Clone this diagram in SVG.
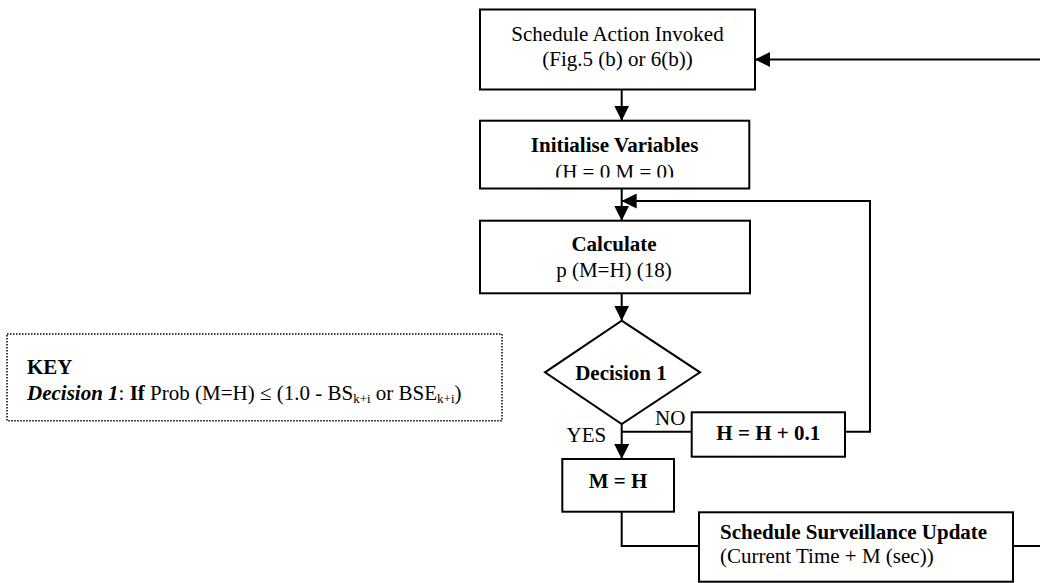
<svg xmlns="http://www.w3.org/2000/svg" width="1040" height="583" viewBox="0 0 1040 583">
<style>
.box{fill:#fff;stroke:#000;stroke-width:2}
.t{font-family:"Liberation Serif","Times New Roman",serif;font-size:21px;fill:#000}
.b{font-weight:bold}
.c{text-anchor:middle}
.ln{fill:none;stroke:#000;stroke-width:2}
.key{fill:#fff;stroke:#000;stroke-width:1.5;stroke-dasharray:1.5 1.5}
</style>
<defs>
<marker id="ah" markerUnits="userSpaceOnUse" markerWidth="15" markerHeight="15" viewBox="0 0 15 15" refX="15" refY="7.5" orient="auto">
<path d="M0,0 L15,7.5 L0,15 Z" fill="#000"/>
</marker>
<clipPath id="clipInit"><rect x="480" y="120" width="270" height="57.5"/></clipPath>
</defs>
<rect width="1040" height="583" fill="#fff"/>
<g id="connectors">
<path class="ln" d="M1040,59.5 L755,59.5" marker-end="url(#ah)"/>
<path class="ln" d="M621.7,89.5 L621.7,120.7" marker-end="url(#ah)"/>
<path class="ln" d="M621.7,188.5 L621.7,220.7" marker-end="url(#ah)"/>
<path class="ln" d="M845,431.7 L870,431.7 L870,201 L621.7,201" marker-end="url(#ah)"/>
<path class="ln" d="M621.7,293.3 L621.7,320.7" marker-end="url(#ah)"/>
<path class="ln" d="M621.7,424 L621.7,459" marker-end="url(#ah)"/>
<path class="ln" d="M621.7,431.7 L691.7,431.7"/>
<path class="ln" d="M621.7,511.7 L621.7,546 L699,546"/>
<path class="ln" d="M1013,546 L1040,546"/>
</g>
<g id="n-schedule">
<rect class="box" x="480" y="9.5" width="275" height="80"/>
<text class="t c" x="617.5" y="40.5">Schedule Action Invoked</text>
<text class="t c" x="617.5" y="66">(Fig.5 (b) or 6(b))</text>
</g>
<g id="n-init">
<rect class="box" x="480" y="120.7" width="269.3" height="67.8"/>
<text class="t b c" x="614.6" y="151.5">Initialise Variables</text>
<text class="t c" x="614.6" y="178.5" clip-path="url(#clipInit)">(H = 0 M = 0)</text>
</g>
<g id="n-calc">
<rect class="box" x="480" y="220.7" width="270" height="72.6"/>
<text class="t b c" x="614" y="250.7">Calculate</text>
<text class="t c" x="614" y="276.7">p (M=H) (18)</text>
</g>
<g id="n-decision">
<polygon class="box" points="621.7,320.7 700,372.3 621.7,424 545,372.3"/>
<text class="t b c" x="621" y="380">Decision 1</text>
</g>
<g id="n-inc">
<rect class="box" x="691.7" y="412.3" width="153.3" height="44.4"/>
<text class="t b c" x="768.3" y="440">H = H + 0.1</text>
</g>
<g id="n-mh">
<rect class="box" x="562.3" y="459" width="111.7" height="52.7"/>
<text class="t b c" x="618" y="488">M = H</text>
</g>
<g id="n-surv">
<rect class="box" x="699" y="512.3" width="314" height="69.4"/>
<text class="t b" x="720" y="538.5">Schedule Surveillance Update</text>
<text class="t" x="720" y="563">(Current Time + M (sec))</text>
</g>
<g id="labels">
<text class="t" x="655" y="425">NO</text>
<text class="t" x="566.5" y="442.3">YES</text>
</g>
<g id="key">
<rect class="key" x="7" y="334" width="495" height="86.7"/>
<text class="t b" x="27" y="374">KEY</text>
<text class="t" x="27" y="400"><tspan font-weight="bold" font-style="italic">Decision 1</tspan>: <tspan font-weight="bold">If</tspan> Prob (M=H) ≤ (1.0 - BS<tspan font-size="13" dy="3">k+i</tspan><tspan dy="-3"> or BSE</tspan><tspan font-size="13" dy="3">k+i</tspan><tspan dy="-3">)</tspan></text>
</g>
</svg>
